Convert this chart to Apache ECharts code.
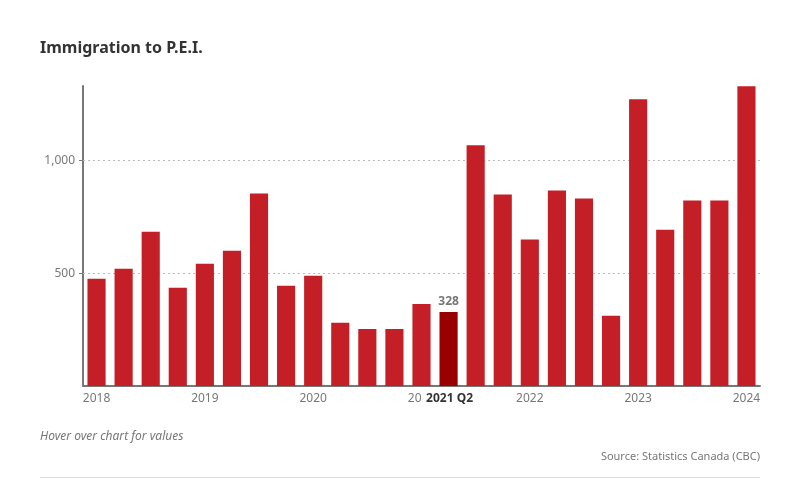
<!DOCTYPE html>
<html>
<head>
<meta charset="utf-8">
<script src="https://cdn.jsdelivr.net/npm/echarts@6/dist/echarts.min.js"></script>
<style>
html,body{margin:0;padding:0;background:#fff;}
#chart{width:800px;height:497px;}
</style>
</head>
<body>
<div id="chart"></div>
<script>
const categories = [
  "2018 Q1","2018 Q2","2018 Q3","2018 Q4",
  "2019 Q1","2019 Q2","2019 Q3","2019 Q4",
  "2020 Q1","2020 Q2","2020 Q3","2020 Q4",
  "2021 Q1","2021 Q2","2021 Q3","2021 Q4",
  "2022 Q1","2022 Q2","2022 Q3","2022 Q4",
  "2023 Q1","2023 Q2","2023 Q3","2023 Q4",
  "2024 Q1"
];
const immigrants = [
  475, 520, 684, 436,
  542, 600, 853, 444,
  489, 280, 253, 253,
  364, 328, 1067, 849,
  649, 867, 831, 311,
  1271, 693, 822, 822,
  1329
];
const highlighted = "2021 Q2";
const yTicks = [500, 1000];

const FONT = '"Noto Sans", "Open Sans", sans-serif';
const chart = echarts.init(document.getElementById('chart'), null, {renderer: 'canvas'});

const data = immigrants.map((v, i) => {
  const isHl = categories[i] === highlighted;
  return {
    value: v,
    itemStyle: {color: isHl ? '#990000' : '#c41f27'},
    label: isHl ? {
      show: true, position: 'top', distance: 4,
      formatter: '{c}', color: '#777', fontWeight: 'bold', fontSize: 12, fontFamily: FONT
    } : {show: false}
  };
});

chart.setOption({
  animation: false,
  title: {
    text: 'Immigration to P.E.I.',
    left: 40, top: 40, padding: 0,
    textStyle: {fontFamily: FONT, fontWeight: 'bold', fontSize: 16, color: '#333'}
  },
  grid: {left: 83, right: 40, top: 86, bottom: 111, containLabel: false},
  xAxis: {
    type: 'category',
    data: categories,
    axisLine: {show: true, lineStyle: {color: '#777', width: 2}},
    axisTick: {show: false},
    axisLabel: {
      interval: 0,
      margin: 7,
      color: '#777', fontSize: 12, fontFamily: FONT,
      formatter: function (val) {
        if (val === highlighted) return '{hl|' + val + '}';
        if (val.endsWith('Q1')) return val.slice(0, 4);
        return '';
      },
      rich: {
        hl: {fontWeight: 'bold', color: '#333', fontSize: 12, fontFamily: FONT,
             backgroundColor: '#fff', padding: [0, 2, 0, 4]}
      }
    }
  },
  yAxis: {
    type: 'value',
    min: 0, max: 1330, interval: 500,
    axisLine: {show: true, lineStyle: {color: '#777', width: 2}},
    axisTick: {show: true, length: 4, lineStyle: {color: '#777', width: 1}, customValues: yTicks},
    splitLine: {show: false},
    axisLabel: {
      color: '#777', fontSize: 12, fontFamily: FONT, margin: 8,
      customValues: yTicks,
      formatter: function (v) {
        return v.toLocaleString('en-US');
      }
    }
  },
  series: [{
    type: 'bar',
    data: data,
    barCategoryGap: '33%',
    z: 3,
    markLine: {
      silent: true,
      symbol: 'none',
      label: {show: false},
      lineStyle: {color: '#bbb', type: [2, 3], width: 1},
      z: 1,
      data: yTicks.map(v => ({yAxis: v}))
    }
  }],
  graphic: [
    {type: 'text', left: 40, top: 431,
     style: {text: 'Hover over chart for values', fill: '#777', fontSize: 12, fontStyle: 'italic', fontFamily: FONT}},
    {type: 'text', right: 40, top: 451,
     style: {text: 'Source: Statistics Canada (CBC)', fill: '#777', fontSize: 11, fontFamily: FONT}},
    {type: 'rect', left: 40, top: 477, shape: {width: 720, height: 1}, style: {fill: '#ddd'}}
  ]
});
</script>
</body>
</html>
